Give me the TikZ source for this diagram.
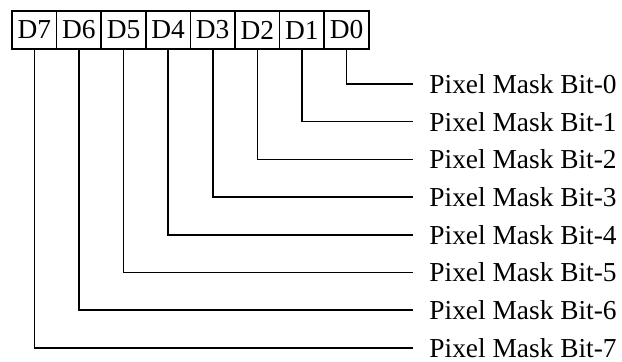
\documentclass[tikz,border=0pt]{standalone}
\usepackage{fontspec}
\setmainfont{Liberation Serif}
\begin{document}
\begin{tikzpicture}[x=0.5pt,y=-0.5pt,
  bitbox/.style={draw,line width=0.8pt,minimum width=22.3pt,minimum height=19pt,inner sep=0pt,font=\fontsize{13.7}{16}\selectfont},
  masklabel/.style={anchor=west,inner xsep=8pt,inner ysep=0pt,font=\fontsize{13.7}{16}\selectfont}]
\useasboundingbox (0,0) rectangle (622,362);
\foreach \b in {0,...,7}{
  \node[bitbox] (d\b) at ({34.3+44.6*(7-\b)},30) {D\b};
  \node[masklabel] (m\b) at (413,{84+37.7*\b}) {Pixel Mask Bit-\b};
  \draw[line width=0.8pt] (d\b.south) |- (m\b.west);
}
\end{tikzpicture}
\end{document}
